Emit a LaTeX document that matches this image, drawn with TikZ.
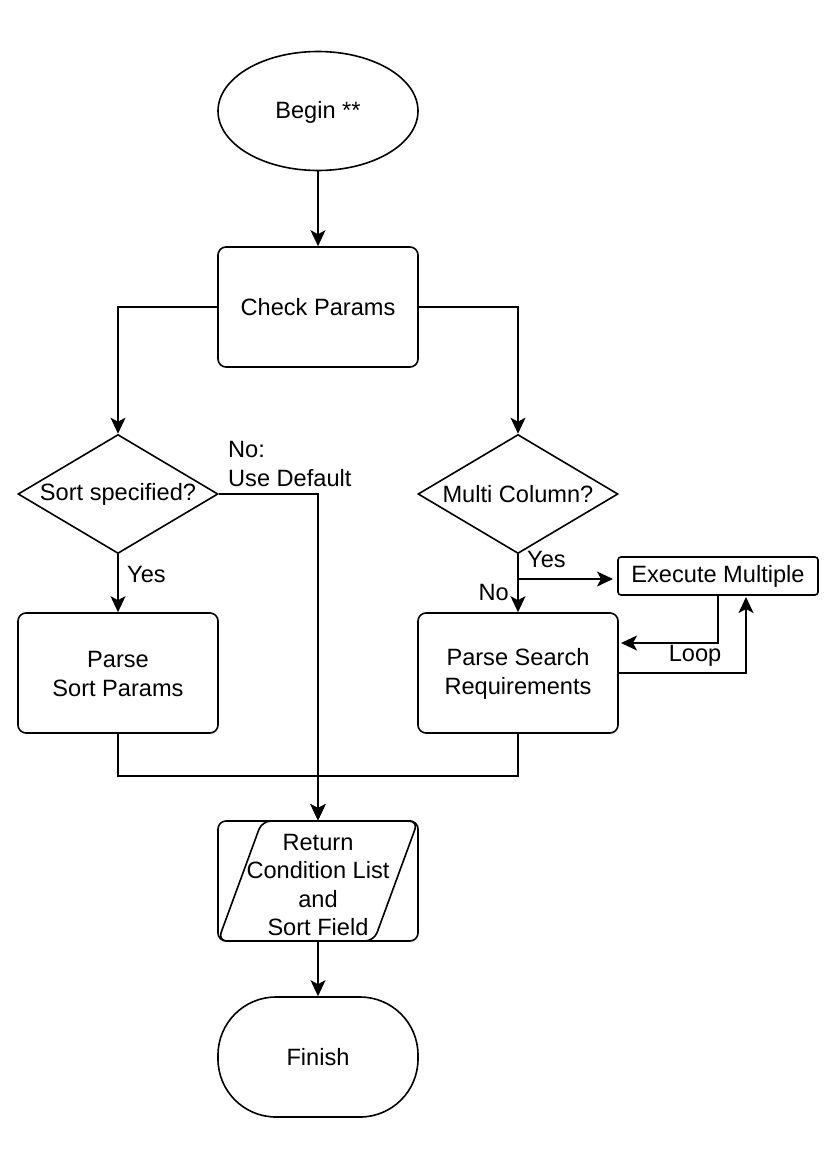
\documentclass[tikz,border=0pt]{standalone}
\usepackage{fontspec}
\setmainfont{Liberation Sans}
\usetikzlibrary{shapes.geometric,arrows.meta}
\begin{document}
\begin{tikzpicture}[x=1pt,y=-1pt,
  every node/.style={font=\fontsize{23.6}{28.5}\selectfont, text=black},
  base/.style={draw=black, line width=1.6pt, fill=white, inner sep=0pt},
  procbox/.style={base, rectangle, rounded corners=8pt, minimum width=200pt, minimum height=120pt, align=center},
  smallbox/.style={base, rectangle, rounded corners=3pt, minimum width=200pt, minimum height=38pt},
  decision/.style={base, diamond, minimum width=200pt, minimum height=119pt},
  startnode/.style={base, ellipse, minimum width=200pt, minimum height=119pt},
  endnode/.style={base, rectangle, rounded corners=58pt, minimum width=200pt, minimum height=120pt},
  conn/.style={line width=1.6pt, draw=black},
  arr/.style={conn, -{Stealth[length=16pt,width=15pt,inset=4pt]}},
  lbl/.style={inner sep=0pt, align=left}
]
\useasboundingbox (0,0) rectangle (835,1167);
\fill[white] (0,0) rectangle (835,1167);

% nodes
\node[startnode] (begin) at (318,111) {};
\node[inner sep=0pt] (begintxt) at (318,112) {Begin **};
\node[procbox] (check) at (318,307) {Check Params};
\node[decision] (sort) at (118,494) {};
\node[inner sep=0pt] (sorttxt) at (118,494) {Sort specified?};
\node[decision] (multi) at (518,494) {};
\node[inner sep=0pt] (multitxt) at (518,494) {Multi Column?};
\node[procbox] (psort) at (118,673) {};
\node[inner sep=0pt, align=center] (psorttxt) at (118,674) {Parse\\Sort Params};
\node[procbox] (psearch) at (518,673) {};
\node[inner sep=0pt, align=center] (psearchtxt) at (518,674) {Parse Search\\Requirements};
\node[smallbox] (exec) at (718,576) {Execute Multiple};
\node[procbox] (ret) at (318,881) {};
\draw[line width=1.6pt, rounded corners=9pt] (262,821) -- (418,821) -- (374,941) -- (218,941) -- cycle;
\node[inner sep=0pt, align=center] (rettxt) at (318,885) {Return\\Condition List\\and\\Sort Field};
\node[endnode] (finish) at (318,1057) {Finish};

% coordinates
\coordinate (yesstart) at (518,579);
\coordinate (yesend) at (613,579);
\coordinate (loopin) at (621,643);
\coordinate (loopout) at (618,673);
\coordinate (execin) at (746,597);
\coordinate (joinL) at (118,776);
\coordinate (joinR) at (518,776);

% connectors
\draw[arr] (begin.south) -- (check.north);
\draw[arr] (check.west) -| (sort.north);
\draw[arr] (check.east) -| (multi.north);
\draw[arr] (sort.east) -| (ret.north);
\draw[arr] (sort.south) -- (psort.north);
\draw[arr] (multi.south) -- (psearch.north);
\draw[arr] (yesstart) -- (yesend);
\draw[arr] (exec.south) |- (loopin);
\draw[arr] (loopout) -| (execin);
\draw[arr] (psort.south) -- (joinL) -| (ret.north);
\draw[arr] (psearch.south) -- (joinR) -| (ret.north);
\draw[arr] (ret.south) -- (finish.north);

% labels
\node[lbl, anchor=west] (lno) at (228,464) {No:\\Use Default};
\node[lbl, anchor=west] (lyes1) at (127,574) {Yes};
\node[lbl, anchor=west] (lyes2) at (527,559) {Yes};
\node[lbl, anchor=east] (lno2) at (509,592) {No};
\node[lbl] (lloop) at (695,656) {Loop};
\end{tikzpicture}
\end{document}
